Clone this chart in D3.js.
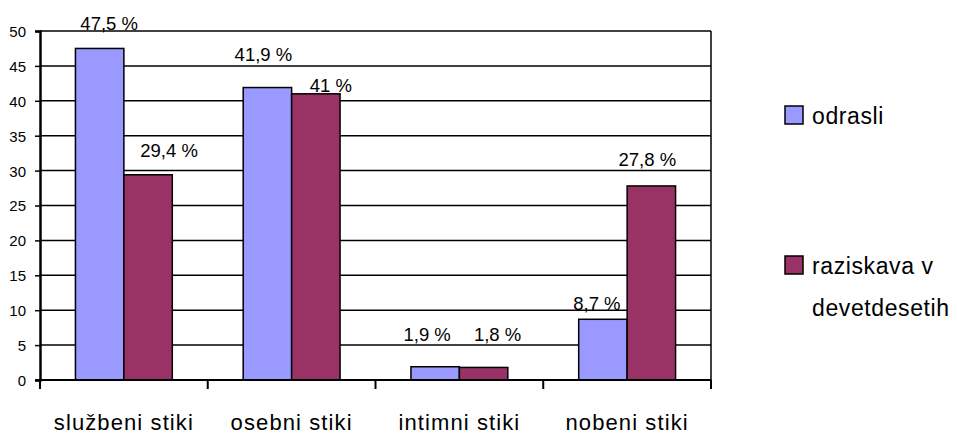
<!DOCTYPE html>
<html>
<head>
<meta charset="utf-8">
<script src="https://cdn.jsdelivr.net/npm/d3@7"></script>
<style>
  body { margin: 0; background: #fff; }
  text { font-family: "Liberation Sans", Arial, sans-serif; fill: #000; }
</style>
</head>
<body>
<div id="chart"></div>
<script>
const categories = ['službeni stiki', 'osebni stiki', 'intimni stiki', 'nobeni stiki'];
const seriesNames = ['odrasli', 'raziskava v devetdesetih'];
const odrasli = [47.5, 41.9, 1.9, 8.7];
const devetdeseta = [29.4, 41, 1.8, 27.8];
const yTicks = [0, 5, 10, 15, 20, 25, 30, 35, 40, 45, 50];

// label nudges (dx, lift above bar top), as placed in the original
const labelNudge = [
  [[9.5, 18], [21, 18]],
  [[-4, 26.5], [15, 2]],
  [[-8, 26], [14, 26]],
  [[-6, 9], [-4, 20]]
];

const colors = ['#9999ff', '#993366'];
const width = 957, height = 434;
const margin = {top: 31, left: 40, right: 246, bottom: 54};

const svg = d3.select('#chart').append('svg')
  .attr('width', width)
  .attr('height', height);

const x0 = d3.scaleBand()
  .domain(categories)
  .range([margin.left, width - margin.right])
  .paddingInner(0);

const x1 = d3.scaleBand()
  .domain(seriesNames)
  .range([0, x0.bandwidth()])
  .paddingInner(0)
  .paddingOuter(0.732);

const y = d3.scaleLinear()
  .domain([0, 50])
  .range([height - margin.bottom, margin.top]);

const rows = categories.map((c, i) => ({
  cat: c,
  vals: [odrasli[i], devetdeseta[i]],
  idx: i
}));

// gridlines
svg.append('g')
  .selectAll('line')
  .data(yTicks.filter(t => t > 0))
  .join('line')
  .attr('x1', margin.left)
  .attr('x2', width - margin.right)
  .attr('y1', d => y(d))
  .attr('y2', d => y(d))
  .attr('stroke', '#000')
  .attr('stroke-width', 1.5);

// right border
svg.append('line')
  .attr('x1', width - margin.right).attr('x2', width - margin.right)
  .attr('y1', y(50)).attr('y2', y(0))
  .attr('stroke', '#000').attr('stroke-width', 1.5);

// bars
const groups = svg.append('g')
  .selectAll('g')
  .data(rows)
  .join('g')
  .attr('transform', d => `translate(${x0(d.cat)},0)`);

groups.selectAll('rect')
  .data(d => d.vals.map((v, k) => ({v, k})))
  .join('rect')
  .attr('x', d => x1(seriesNames[d.k]))
  .attr('width', x1.bandwidth())
  .attr('y', d => y(d.v))
  .attr('height', d => y(0) - y(d.v))
  .attr('fill', d => colors[d.k])
  .attr('stroke', '#000')
  .attr('stroke-width', 1.5);

// value labels
const fmt = v => String(v).replace('.', ',') + ' %';
groups.selectAll('text.val')
  .data(d => d.vals.map((v, k) => ({v, k, i: d.idx})))
  .join('text')
  .attr('class', 'val')
  .attr('x', d => x1(seriesNames[d.k]) + x1.bandwidth() / 2 + labelNudge[d.i][d.k][0])
  .attr('y', d => y(d.v) - labelNudge[d.i][d.k][1])
  .attr('text-anchor', 'middle')
  .style('font-size', '18.5px')
  .text(d => fmt(d.v));

// y axis
const yAxis = svg.append('g')
  .attr('transform', `translate(${margin.left},0)`)
  .call(d3.axisLeft(y).tickValues(yTicks).tickSize(5).tickPadding(9));
yAxis.select('.domain').attr('stroke-width', 2.5);
yAxis.selectAll('.tick line').attr('stroke-width', 1.5);
yAxis.selectAll('.tick text')
  .style('font-size', '15px')
  .style('font-family', '"Liberation Sans", Arial, sans-serif')
  .attr('dy', '0.36em');

// x axis
const xAxisG = svg.append('g')
  .attr('transform', `translate(0,${y(0)})`);
xAxisG.append('line')
  .attr('x1', margin.left - 5).attr('x2', width - margin.right)
  .attr('stroke', '#000').attr('stroke-width', 2);
xAxisG.selectAll('line.tk')
  .data(categories.concat([null]))
  .join('line')
  .attr('class', 'tk')
  .attr('x1', (d, i) => i < categories.length ? x0(d) : x0(categories[i - 1]) + x0.bandwidth())
  .attr('x2', (d, i) => i < categories.length ? x0(d) : x0(categories[i - 1]) + x0.bandwidth())
  .attr('y1', 0).attr('y2', 9)
  .attr('stroke', '#000').attr('stroke-width', 2);
xAxisG.selectAll('text')
  .data(categories)
  .join('text')
  .attr('x', d => x0(d) + x0.bandwidth() / 2)
  .attr('y', 50)
  .attr('text-anchor', 'middle')
  .style('font-size', '22px')
  .style('letter-spacing', '1.1px')
  .text(d => d);

// legend
const legend = svg.append('g');
const legendItems = [
  {name: seriesNames[0], lines: ['odrasli'], top: 106},
  {name: seriesNames[1], lines: ['raziskava v', 'devetdesetih'], top: 256}
];
legendItems.forEach((it, k) => {
  legend.append('rect')
    .attr('x', 785).attr('y', it.top)
    .attr('width', 18).attr('height', 18)
    .attr('fill', colors[k])
    .attr('stroke', '#000').attr('stroke-width', 1.5);
  it.lines.forEach((ln, j) => {
    legend.append('text')
      .attr('x', 812)
      .attr('y', it.top + 18 + j * 42)
      .style('font-size', '23px')
      .style('letter-spacing', '0.6px')
      .text(ln);
  });
});
</script>
</body>
</html>
